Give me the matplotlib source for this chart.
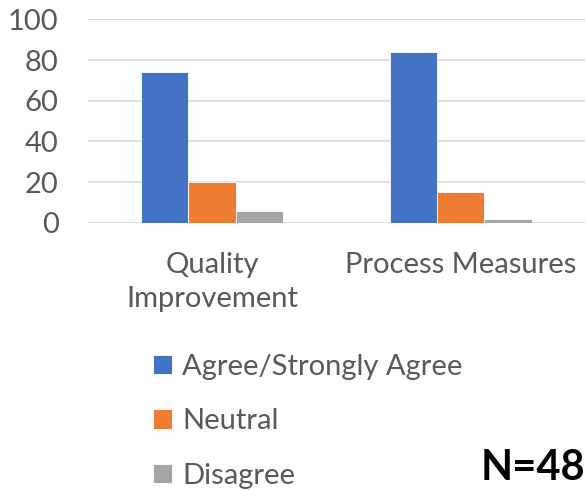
import matplotlib.pyplot as plt
import numpy as np

plt.rcParams['font.family'] = ['Lato', 'DejaVu Sans']

categories = ['Quality\nImprovement', 'Process Measures']
series_names = ['Agree/Strongly Agree', 'Neutral', 'Disagree']
agree = [74, 84]
neutral = [20, 15]
disagree = [6, 2]
colors = ['#4472C4', '#ED7D31', '#A5A5A5']

fig = plt.figure(figsize=(5.85, 4.9), dpi=100)
ax = fig.add_axes([0.150, 0.5455, 0.850, 0.415])

x = np.arange(len(categories))
w = 0.19
bars = []
for i, (vals, name) in enumerate(zip([agree, neutral, disagree], series_names)):
    b = ax.bar(x + (i - 1) * w, vals, width=w, color=colors[i], label=name,
               edgecolor='white', linewidth=0.6, zorder=3)
    bars.append(b)

ax.set_xlim(-0.5, 1.5)
ax.set_ylim(0, 100)
ax.set_yticks(range(0, 101, 20))
ax.set_xticks(x)
ax.set_xticklabels(categories)
ax.tick_params(axis='both', length=0, labelsize=21, colors='#595959')
ax.tick_params(axis='x', pad=21)
ax.tick_params(axis='y', pad=21)
ax.grid(axis='y', color='#D9D9D9', linewidth=1.2, zorder=0)
for s in ax.spines.values():
    s.set_visible(False)
for lbl in ax.get_xticklabels():
    lbl.set_linespacing(1.4)

fig.legend(handles=bars, labels=series_names, loc='upper left',
           bbox_to_anchor=(0.242, 0.302), frameon=False, fontsize=21,
           labelcolor='#595959', handlelength=0.65, handleheight=0.65,
           handletextpad=0.35, labelspacing=0.98, borderaxespad=0)

fig.text(1.0, 0.006, 'N=48', ha='right', va='bottom', fontsize=30,
         fontweight='bold', color='black')

fig.savefig('out.png', dpi=100)
